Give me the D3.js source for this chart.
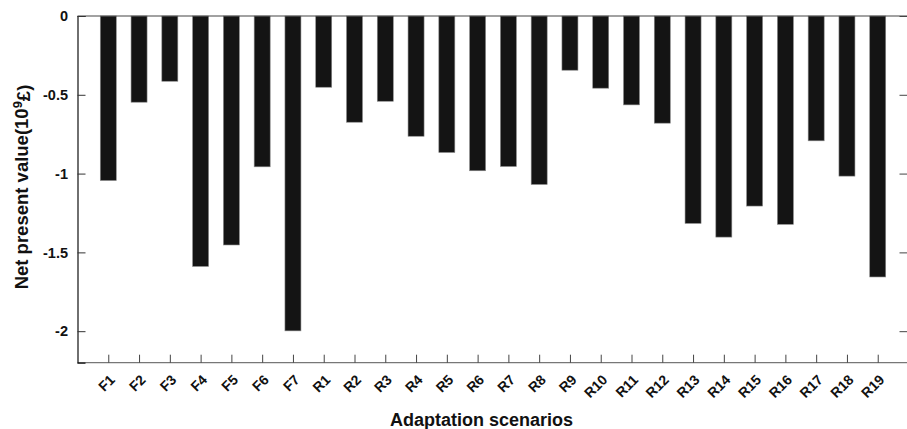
<!DOCTYPE html>
<html>
<head>
<meta charset="utf-8">
<script src="https://cdn.jsdelivr.net/npm/d3@7"></script>
<style>
  html, body { margin: 0; padding: 0; background: #fff; }
  svg { display: block; }
  text { font-family: "Liberation Sans", Arial, sans-serif; font-weight: bold; fill: #111; }
</style>
</head>
<body>
<svg id="chart" width="907" height="429"></svg>
<script>
const categories = ["F1","F2","F3","F4","F5","F6","F7","R1","R2","R3","R4","R5","R6","R7","R8","R9","R10","R11","R12","R13","R14","R15","R16","R17","R18","R19"];
const values = [-1.044,-0.547,-0.414,-1.589,-1.453,-0.957,-1.998,-0.452,-0.674,-0.541,-0.763,-0.866,-0.982,-0.955,-1.069,-0.344,-0.458,-0.564,-0.680,-1.316,-1.403,-1.206,-1.322,-0.792,-1.016,-1.656];
const yTicks = [0, -0.5, -1, -1.5, -2];
const yTickLabels = ["0", "-0.5", "-1", "-1.5", "-2"];

(function () {
const svg = d3.select("#chart");
const pL = 77.5, pR = 908.5, pT = 16, pB = 362.7;

const x = d3.scaleLinear().domain([0, categories.length + 1]).range([pL, pR]);
const y = d3.scaleLinear().domain([-2.2, 0]).range([pB, pT]);
const barW = 16;

// bars
svg.append("g").selectAll("rect").data(values).join("rect")
  .attr("x", (d, i) => x(i + 1) - barW / 2)
  .attr("y", y(0))
  .attr("width", barW)
  .attr("height", d => y(d) - y(0))
  .attr("fill", "#141414")
  .attr("stroke", "#8a8a8a")
  .attr("stroke-width", 0.6);

// box lines
svg.append("line").attr("x1", pL).attr("x2", pR).attr("y1", pT).attr("y2", pT)
  .attr("stroke", "#444").attr("stroke-width", 1);
svg.append("line").attr("x1", pL).attr("x2", pR).attr("y1", pB).attr("y2", pB)
  .attr("stroke", "#777").attr("stroke-width", 1.2);
svg.append("line").attr("x1", pR - 1).attr("x2", pR - 1).attr("y1", pT).attr("y2", pB)
  .attr("stroke", "#444").attr("stroke-width", 1);

const fontFam = "'Liberation Sans', Arial, sans-serif";

// left axis
const yAxis = d3.axisLeft(y).tickValues(yTicks).tickSize(-8).tickPadding(9.5)
  .tickFormat((d, i) => yTickLabels[i]);
const gy = svg.append("g").attr("transform", `translate(${pL},0)`).call(yAxis);
gy.select(".domain").attr("stroke", "#111").attr("stroke-width", 1.2);
gy.selectAll(".tick line").attr("stroke", "#333");
gy.selectAll(".tick text").style("font-size", "14.5px").style("font-weight", "bold")
  .style("font-family", fontFam).attr("fill", "#111");

// right ticks
const yAxisR = d3.axisRight(y).tickValues(yTicks).tickSize(-8).tickFormat("");
const gyr = svg.append("g").attr("transform", `translate(${pR - 1},0)`).call(yAxisR);
gyr.select(".domain").remove();
gyr.selectAll(".tick line").attr("stroke", "#444");

// bottom axis
const xAxis = d3.axisBottom(x).tickValues(d3.range(1, categories.length + 1))
  .tickSize(-8).tickFormat(d => categories[d - 1]);
const gx = svg.append("g").attr("transform", `translate(0,${pB})`).call(xAxis);
gx.select(".domain").remove();
gx.selectAll(".tick line").attr("stroke", "#444");
gx.selectAll(".tick text")
  .style("font-size", "14px").style("font-weight", "bold")
  .style("font-family", fontFam).attr("fill", "#111")
  .attr("text-anchor", "end")
  .attr("dy", "0")
  .attr("y", 0)
  .attr("transform", "translate(7,18) rotate(-45)");

// axis titles
svg.append("text").attr("x", 481.5).attr("y", 426).attr("text-anchor", "middle")
  .style("font-size", "18px").text("Adaptation scenarios");

const yt = svg.append("text").attr("transform", `translate(28,187) rotate(-90)`)
  .attr("text-anchor", "middle").style("font-size", "18.5px");
yt.append("tspan").text("Net present value(10");
yt.append("tspan").attr("dy", "-0.45em").style("font-size", "13px").text("9");
yt.append("tspan").attr("dy", "0.45em").text("£)");
})();
</script>
</body>
</html>
